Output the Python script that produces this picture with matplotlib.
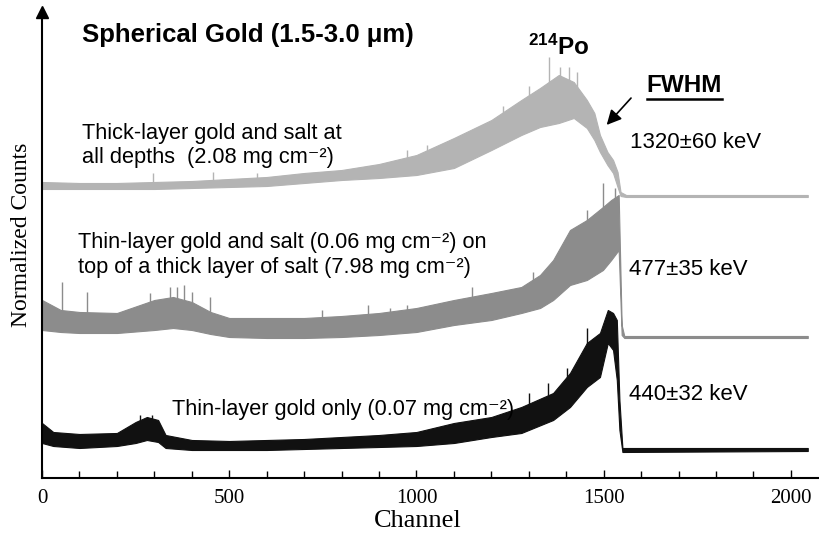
import numpy as np
import matplotlib
matplotlib.use("Agg")
import matplotlib.pyplot as plt
from matplotlib.lines import Line2D

plt.rcParams["font.family"] = ["Liberation Sans", "DejaVu Sans"]
plt.rcParams["mathtext.fontset"] = "custom"
plt.rcParams["mathtext.rm"] = "Liberation Sans"
plt.rcParams["mathtext.it"] = "Liberation Sans:italic"
plt.rcParams["mathtext.bf"] = "Liberation Sans:bold"

# ── spectra: channel grid with lower / upper edge of the counting-noise band ──
# (offset-stacked, arbitrary normalised units)
thick_ch = [0, 100, 200, 300, 400, 500, 600, 700, 800, 900, 1000, 1100, 1200,
            1280, 1330, 1380, 1420, 1455, 1475, 1490, 1510, 1525, 1537, 1545,
            1560, 2045]
thick_lo = [289, 289, 289, 289, 290, 291, 292, 295, 298, 300, 303, 310, 328,
            343, 351, 355, 360, 350, 338, 326, 313, 305, 291, 282, 281, 281]
thick_hi = [296, 295, 295, 296, 297, 299, 301, 305, 308, 314, 323, 340, 358,
            378, 390, 403, 396, 378, 365, 343, 326, 318, 306, 286, 283, 283]
thick_spk_ch = [297, 457, 573, 974, 1028, 1230, 1300, 1354, 1383, 1407, 1430]
thick_spk_lo = [292, 293, 296, 310, 315, 340, 355, 370, 370, 372, 365]
thick_spk_hi = [305, 306, 305, 328, 333, 372, 392, 421, 411, 411, 406]

salt_ch = [0, 50, 100, 200, 300, 350, 400, 450, 500, 600, 700, 800, 900, 1000,
           1100, 1200, 1280, 1330, 1365, 1410, 1455, 1498, 1520, 1540, 1548,
           1555, 2045]
salt_lo = [148, 146, 145, 145, 148, 150, 148, 144, 141, 140, 140, 141, 143, 146,
           153, 158, 165, 170, 178, 193, 198, 208, 218, 228, 143, 140, 140]
salt_hi = [178, 168, 166, 165, 178, 181, 176, 166, 160, 160, 160, 162, 165, 170,
           178, 185, 191, 203, 218, 248, 258, 271, 278, 283, 153, 142, 142]
salt_spk_ch = [53, 120, 288, 342, 360, 380, 400, 449, 747, 871, 929, 974,
               1148, 1311, 1455, 1498, 1530]
salt_spk_lo = [160, 155, 160, 165, 165, 165, 160, 155, 150, 152, 155, 158,
               165, 175, 215, 230, 240]
salt_spk_hi = [196, 186, 185, 191, 191, 193, 186, 181, 168, 173, 170, 173,
               191, 206, 268, 295, 290]

gold_ch = [0, 30, 100, 200, 250, 280, 310, 330, 400, 500, 600, 700, 800, 900,
           1000, 1100, 1200, 1280, 1365, 1410, 1455, 1490, 1511, 1525, 1535,
           1542, 1550, 2045]
gold_lo = [35, 32, 30, 32, 35, 38, 36, 30, 28, 28, 28, 29, 30, 31,
           32, 35, 41, 45, 58, 71, 91, 101, 135, 128, 98, 48, 26, 27]
gold_hi = [55, 46, 44, 45, 56, 61, 58, 43, 38, 37, 38, 39, 41, 43,
           46, 55, 61, 71, 85, 105, 135, 145, 168, 165, 158, 78, 30, 30]
gold_spk_ch = [262, 294, 1300, 1352, 1401, 1455]
gold_spk_lo = [45, 45, 55, 70, 85, 110]
gold_spk_hi = [63, 63, 85, 95, 110, 150]

spectra = [
    (thick_ch, thick_lo, thick_hi, thick_spk_ch, thick_spk_lo, thick_spk_hi, "#b4b4b4"),
    (salt_ch, salt_lo, salt_hi, salt_spk_ch, salt_spk_lo, salt_spk_hi, "#8c8c8c"),
    (gold_ch, gold_lo, gold_hi, gold_spk_ch, gold_spk_lo, gold_spk_hi, "#111111"),
]

fig = plt.figure(figsize=(8.19, 5.33), dpi=100)
ax = fig.add_axes([0.0513, 0.1032, 0.9487, 0.8743])

for ch, lo, hi, sch, slo, shi, c in spectra:
    ax.fill_between(ch, lo, hi, color=c, lw=0.8, edgecolor=c)
    ax.vlines(sch, slo, shi, color=c, lw=1.0)

ax.set_xlim(0, 2075)
ax.set_ylim(0, 466)

for side in ("top", "right"):
    ax.spines[side].set_visible(False)
ax.spines["left"].set_linewidth(1.5)
ax.spines["bottom"].set_linewidth(1.5)
# arrow head on the counts axis
ax.plot([0], [466], marker="^", color="black", markersize=8, clip_on=False)

ax.set_yticks([])
ax.set_xticks([0, 500, 1000, 1500, 2000])
ax.set_xticks(np.arange(100, 2001, 100), minor=True)
ax.tick_params(axis="x", which="both", direction="in", width=1)
ax.tick_params(axis="x", which="major", length=6, pad=8)
ax.tick_params(axis="x", which="minor", length=5)
for lab in ax.get_xticklabels():
    lab.set_family("Liberation Serif")
    lab.set_fontsize(15)

fig.text(22 / 819, 1 - 235 / 533, "Normalized Counts", rotation=90,
         ha="center", va="center", family="Liberation Serif", fontsize=17)
fig.text(418 / 819, 1 - 521 / 533, "Channel", ha="center", va="center",
         family="Liberation Serif", fontsize=19)

# ── annotations ──
ax.text(107, 436, "Spherical Gold (1.5-3.0 μm)", fontsize=18.5, fontweight="bold")
ax.text(1298, 423, r"$^{\mathbf{214}}$Po", fontsize=17.5, fontweight="bold")
fwhm = ax.text(1615, 386, "FWHM", fontsize=17.5, fontweight="bold")
ax.annotate("", xy=(1503, 351), xytext=(1578, 382),
            arrowprops=dict(arrowstyle="-|>", color="black", lw=1.2,
                            mutation_scale=22))

ax.text(107, 339, "Thick-layer gold and salt at", fontsize=15.7)
ax.text(107, 315, "all depths  (2.08 mg cm⁻²)", fontsize=15.7)
ax.text(96, 230, "Thin-layer gold and salt (0.06 mg cm⁻²) on", fontsize=15.7)
ax.text(96, 205, "top of a thick layer of salt (7.98 mg cm⁻²)", fontsize=15.7)
ax.text(347, 63, "Thin-layer gold only (0.07 mg cm⁻²)", fontsize=15.7)

ax.text(1570, 330, "1320±60 keV", fontsize=16)
ax.text(1567, 203, "477±35 keV", fontsize=16)
ax.text(1567, 78, "440±32 keV", fontsize=16)

# underline under FWHM
fig.canvas.draw()
bb = fwhm.get_window_extent().transformed(fig.transFigure.inverted())
fig.add_artist(Line2D([bb.x0, bb.x1], [bb.y0 - 0.004, bb.y0 - 0.004],
                      transform=fig.transFigure, color="black", lw=1.8))

fig.savefig("out.png", dpi=100)
